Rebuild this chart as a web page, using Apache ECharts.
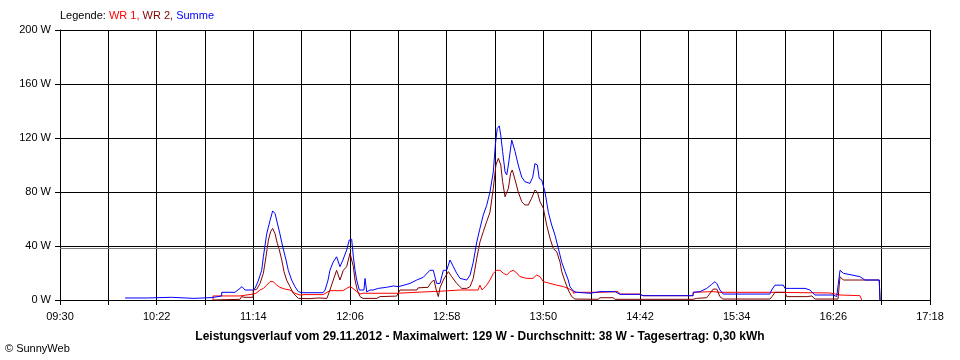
<!DOCTYPE html>
<html>
<head>
<meta charset="utf-8">
<script src="https://cdn.jsdelivr.net/npm/echarts@6/dist/echarts.min.js"></script>
<style>html,body{margin:0;padding:0;background:#fff}#c{width:960px;height:360px}</style>
</head>
<body>
<div id="c"></div>
<script>
// Time values are minutes after 09:30
const axisStartMinutes = 570; // 09:30
const axisEndOffset = 468;    // 17:18
const tickStep = 26;
const yTicks = [0, 40, 80, 120, 160, 200];
const averageW = 38;

const sumTimes = [35.0,47.0,47.5,60.0,60.5,72.0,72.5,81.8,81.8,87.0,87.0,94.1,96.8,97.9,99.5,103.8,104.9,106.5,108.5,109.4,111.2,113.0,114.4,115.7,116.9,118.3,119.8,121.6,122.8,124.6,126.4,128.2,130.0,141.5,142.6,144.2,145.2,146.9,148.8,150.6,152.2,154.2,155.6,156.9,157.8,158.7,159.6,161.0,163.5,164.1,165.0,166.8,168.5,171.2,175.7,179.3,182.0,185.0,188.3,191.9,195.4,199.0,200.8,202.6,204.4,206.2,208.0,209.8,211.6,213.4,215.2,218.8,220.6,222.3,224.2,225.9,227.7,229.5,231.3,233.1,234.2,235.2,236.3,237.1,238.1,239.4,240.3,241.2,243.0,243.8,244.8,246.5,248.4,250.1,252.8,254.3,255.5,256.8,257.8,259.1,260.9,262.7,264.5,266.3,268.1,269.9,271.7,273.4,274.3,276.1,277.9,285.1,290.5,298.6,301.2,312.0,313.6,340.5,340.7,344.3,347.9,350.6,352.3,353.4,355.0,356.8,381.9,382.8,384.6,389.1,390.0,390.9,400.8,403.4,406.1,416.0,416.9,417.8,418.5,419.6,421.4,430.3,433.0,440.7,441.1];
const sumValues = [1.5,1.5,2,2,1.2,1.2,1.8,1.8,3,3,5.7,5.7,8.6,9.9,7.4,7.4,8.6,13.6,22,32,49,59,66,64,57,49,39.5,29.6,22,14.8,9.9,6.2,5.4,5.4,7.4,14.8,22,28,32,24.7,29.6,37,44.4,45,32,22,14.8,7.4,7.4,16,6,7.4,7.4,8.6,9.4,10.4,9.9,11,12.3,14.8,16.8,22,22,12.3,12.3,22,22,29.6,24.7,19.8,16,14.8,18.5,28,43,53,63,70,80,95,115,127,129,122,110,95,92.6,100,118.5,118.5,110,100,91,87.6,86.4,91,101,100,90,89,80,65,55.5,48,38,28,21,14.8,9.9,6.7,5.7,5,6.2,6.2,4.2,4.2,3.2,3.2,5.7,6.2,8.6,11.6,13.6,12,7.4,4.4,4.4,7.4,11,11,8.6,7.4,8.6,7.4,3.7,3.7,5,2.5,2.5,22,19.8,17.3,14.8,14.8,0];

const wr2Times = [82.3,82.3,96.8,97.7,99.5,103.8,104.0,105.8,107.6,109.4,110.8,112.1,113.3,114.4,115.7,116.9,118.0,119.3,120.5,121.9,123.7,125.5,128.2,134.5,138.8,143.6,144.3,145.2,147.0,148.8,150.6,152.4,154.2,156.0,156.9,157.8,158.7,159.9,161.4,163.0,170.5,172.1,181.1,182.9,192.0,192.6,198.0,199.6,201.2,202.3,203.5,204.4,206.2,208.9,210.7,213.4,216.1,218.8,220.6,222.3,224.2,225.9,227.7,229.5,231.3,233.1,234.5,235.8,237.1,238.1,239.4,240.3,241.2,242.4,243.3,244.8,246.5,248.4,250.1,251.9,253.7,255.5,256.8,258.2,260.0,261.8,263.6,265.4,267.2,269.0,269.9,271.7,273.4,275.3,277.0,289.4,290.5,297.5,298.6,340.5,342.5,347.9,349.7,351.4,353.3,355.0,356.6,381.9,383.0,384.6,390.0,390.9,401.7,402.6,404.5,406.1,418.5,419.6,421.4,440.7,441.1];
const wr2Values = [0,0.5,0.5,2.5,2,2,7.4,7.9,12.3,19.8,32,44.4,50.6,53,49,42,37,29.6,21,14.8,9.9,5,1.2,1,1.5,1.2,2.5,7.4,14.8,22,14.8,22,24.7,34.6,34.6,24.7,14.8,7.4,2.5,1.2,1.2,2.5,2.9,7.4,7.4,9,9.4,13,14.8,8,2.5,9,14.8,21,17.3,12.3,8.6,8.6,9.9,16,31,43,50.6,58,65,82.7,100,105,100,87.6,76.5,76.5,82.7,93.8,96.3,89,80,72.8,70.4,70.4,75.3,81.5,80,72.8,68,55.5,45.7,38,35.8,28,21,13.6,7.4,2.5,0.7,0.5,1.7,1.7,0.5,0.5,1.2,1.7,5,8.1,8.1,2.5,0.7,0.7,2.5,5.7,5.7,2.5,2.5,3.7,3,0.7,0.7,17.3,14.8,14.8,0];

const wr1Times = [82.3,82.3,96.8,96.8,103.8,105.4,107.6,109.4,111.2,113.0,114.7,116.6,118.3,121.0,123.7,126.4,129.1,131.8,141.5,141.5,145.2,152.2,154.2,156.0,157.6,159.6,161.4,163.0,181.3,181.3,199.0,199.6,204.4,215.2,224.9,225.9,227.0,229.5,231.3,233.1,234.9,236.7,238.5,240.3,242.1,243.8,245.7,247.4,251.1,254.4,256.4,258.2,260.0,263.6,267.2,270.8,273.4,276.0,276.1,277.9,290.5,290.5,300.2,301.2,312.0,313.6,340.5,340.7,351.3,355.0,381.9,382.2,414.2,414.4,419.6,430.3,431.3];
const wr1Values = [0,3,3,4.4,4.4,5,7.4,8.6,11,13.6,13.6,11,9.4,8.1,7.4,5,3.7,4,4,5,6.9,6.9,8.6,9.9,8.6,6.2,4.4,5,5,6.2,6.2,7,6.5,7.4,7.4,11,7.4,11,14.8,19.8,22,22,19.8,18.5,21,22,20,17.3,16,16,18.5,17.3,13.6,12.3,11,9.9,8.6,6.7,5,5.7,5.7,6.2,6.2,4.4,4.4,3.2,3.2,5.7,6.2,5.7,5.7,5.2,5.2,4.2,3.7,3.2,0];

function pairs(t, v) { return t.map((x, i) => [x, v[i]]); }
function clock(off) {
  const tot = axisStartMinutes + off;
  const h = Math.floor(tot / 60), m = tot % 60;
  return (h < 10 ? '0' : '') + h + ':' + (m < 10 ? '0' : '') + m;
}

const FONT = 'Liberation Sans';
const chart = echarts.init(document.getElementById('c'), null, {renderer: 'canvas'});
chart.setOption({
  animation: false,
  backgroundColor: '#ffffff',
  grid: {left: 60, right: 30, top: 30, bottom: 60, containLabel: false},
  xAxis: {
    type: 'value', min: 0, max: axisEndOffset, interval: tickStep,
    axisLine: {lineStyle: {color: '#000', width: 1}},
    axisTick: {show: true, length: 5, lineStyle: {color: '#000'}},
    splitLine: {show: true, lineStyle: {color: '#000', width: 1}},
    axisLabel: {
      color: '#000', fontFamily: FONT, fontSize: 11, margin: 11,
      showMinLabel: true, showMaxLabel: true,
      formatter: v => (v % (2 * tickStep) === 0 ? clock(v) : '')
    }
  },
  yAxis: {
    type: 'value', min: yTicks[0], max: yTicks[yTicks.length - 1], interval: 40,
    axisLine: {show: true, lineStyle: {color: '#000', width: 1}},
    axisTick: {show: true, length: 5, lineStyle: {color: '#000'}},
    splitLine: {show: true, lineStyle: {color: '#000', width: 1}},
    axisLabel: {color: '#000', fontFamily: FONT, fontSize: 11, margin: 9, formatter: '{value} W'}
  },
  series: [
    {name: 'WR 1', type: 'line', data: pairs(wr1Times, wr1Values), showSymbol: false, symbol: 'none',
     lineStyle: {color: '#ff0000', width: 1}, itemStyle: {color: '#ff0000'}, z: 3},
    {name: 'WR 2', type: 'line', data: pairs(wr2Times, wr2Values), showSymbol: false, symbol: 'none',
     lineStyle: {color: '#800000', width: 1}, itemStyle: {color: '#800000'}, z: 4},
    {name: 'Summe', type: 'line', data: pairs(sumTimes, sumValues), showSymbol: false, symbol: 'none',
     lineStyle: {color: '#0000ff', width: 1}, itemStyle: {color: '#0000ff'}, z: 5,
     markLine: {silent: true, symbol: 'none', label: {show: false},
       lineStyle: {color: '#808080', type: 'solid', width: 1},
       data: [{yAxis: averageW}]}}
  ],
  graphic: [
    {type: 'text', left: 60, top: 10, style: {
      text: '{a|Legende: }{b|WR 1, }{c|WR 2, }{d|Summe}',
      rich: {
        a: {fill: '#000', fontFamily: FONT, fontSize: 11},
        b: {fill: '#ff0000', fontFamily: FONT, fontSize: 11},
        c: {fill: '#800000', fontFamily: FONT, fontSize: 11},
        d: {fill: '#0000ff', fontFamily: FONT, fontSize: 11}
      }}},
    {type: 'text', x: 480, y: 337, style: {
      text: 'Leistungsverlauf vom 29.11.2012 - Maximalwert: 129 W - Durchschnitt: 38 W - Tagesertrag: 0,30 kWh',
      fill: '#000', fontFamily: FONT, fontSize: 12, fontWeight: 'bold', align: 'center', verticalAlign: 'middle'}},
    {type: 'text', x: 5, y: 349, style: {
      text: '\u00A9 SunnyWeb', fill: '#000', fontFamily: FONT, fontSize: 11, verticalAlign: 'middle'}}
  ]
});
</script>
</body>
</html>
